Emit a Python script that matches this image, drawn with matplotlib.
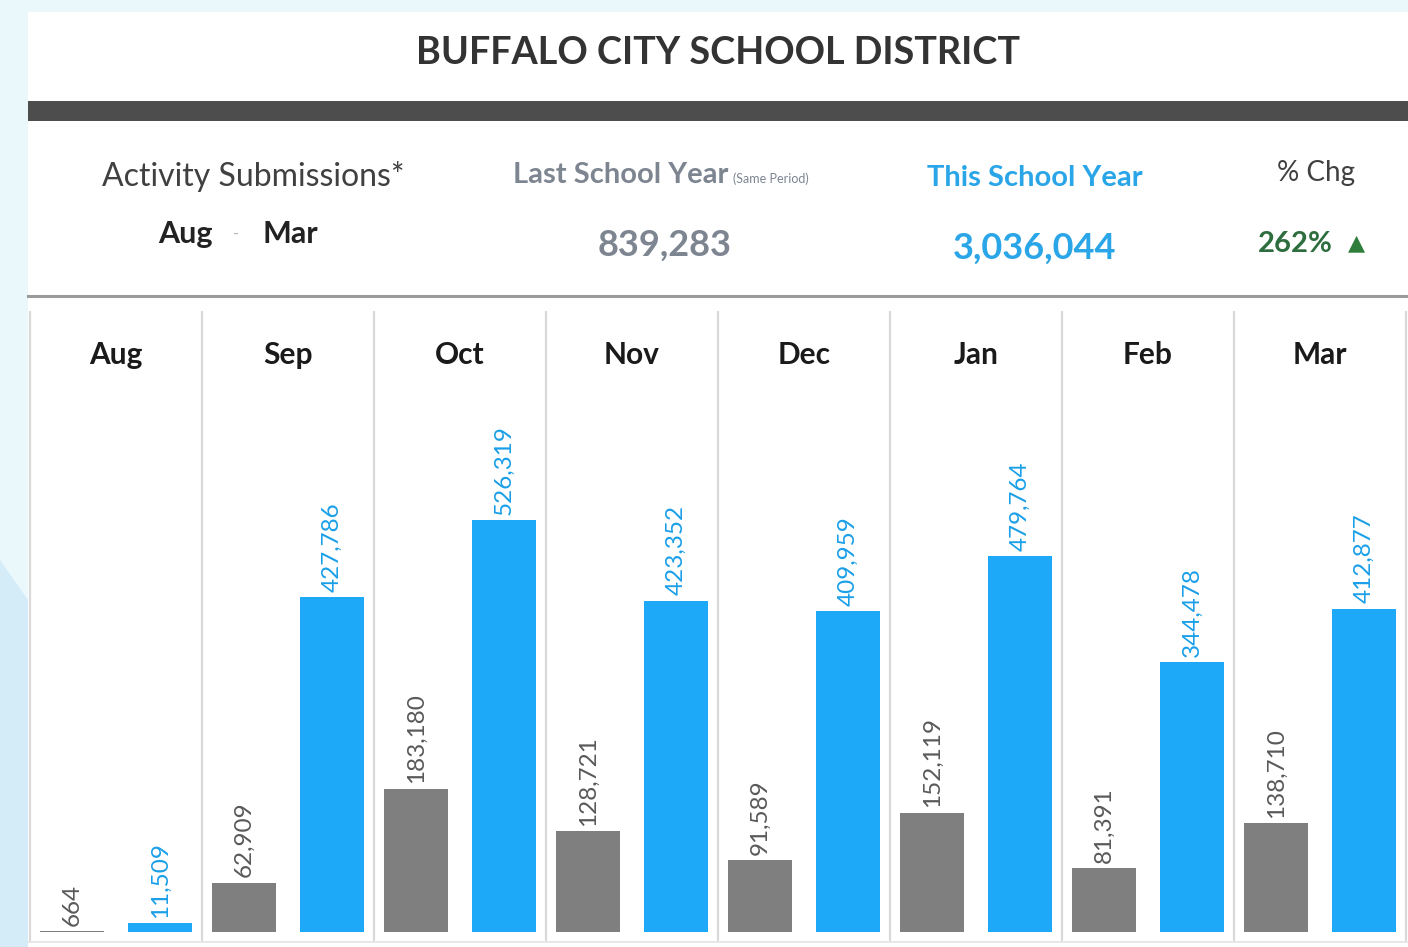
import matplotlib
matplotlib.use('Agg')
import matplotlib.pyplot as plt
from matplotlib.patches import Rectangle, Polygon

plt.rcParams['font.family'] = ['Lato', 'DejaVu Sans']

# данные
months = ['Aug', 'Sep', 'Oct', 'Nov', 'Dec', 'Jan', 'Feb', 'Mar']
last_year = [664, 62909, 183180, 128721, 91589, 152119, 81391, 138710]
this_year = [11509, 427786, 526319, 423352, 409959, 479764, 344478, 412877]
last_total = '839,283'
this_total = '3,036,044'
pct_chg = '262%'

W, H = 1408, 947
GRAY = '#7f7f7f'
BLUE = '#1ea8f8'


def fx(px):
    return px / W


def fy(py):
    return 1 - py / H


fig = plt.figure(figsize=(W / 100, H / 100), dpi=100, facecolor='#eaf8fc')

# фон слева (светло-голубая полоса)
fig.patches.append(Polygon([(0, fy(560)), (fx(28), fy(600)), (fx(28), 0), (0, 0)],
                           closed=True, transform=fig.transFigure,
                           facecolor='#d3ecf7', edgecolor='none', zorder=-6))
# белая панель (под осями)
fig.patches.append(Rectangle((fx(28), 0), 1 - fx(28), fy(12), transform=fig.transFigure,
                             facecolor='white', edgecolor='none', zorder=-5))

# шапка
fig.text(fx(718), fy(53), 'BUFFALO CITY SCHOOL DISTRICT', ha='center', va='center',
         fontsize=27.2, fontweight='bold', color='#333333')
fig.patches.append(Rectangle((fx(28), fy(121)), 1 - fx(28), (121 - 101) / H,
                             transform=fig.transFigure, facecolor='#4d4d4d', edgecolor='none'))

fig.text(fx(253), fy(177), 'Activity Submissions*', ha='center', va='center',
         fontsize=23, color='#404040')
fig.text(fx(185), fy(234), 'Aug', ha='center', va='center', fontsize=22,
         fontweight='bold', color='#222222')
fig.text(fx(236), fy(234), '-', ha='center', va='center', fontsize=12, color='#bbbbbb')
fig.text(fx(290), fy(234), 'Mar', ha='center', va='center', fontsize=22,
         fontweight='bold', color='#222222')

fig.text(fx(728), fy(175), 'Last School Year', ha='right', va='center', fontsize=21,
         fontweight='bold', color='#7d8591')
fig.text(fx(733), fy(179), '(Same Period)', ha='left', va='center', fontsize=9,
         color='#7d8591')
fig.text(fx(665), fy(245), last_total, ha='center', va='center', fontsize=26,
         fontweight='bold', color='#7d8591')

fig.text(fx(1035), fy(178), 'This School Year', ha='center', va='center', fontsize=21,
         fontweight='bold', color='#2aa6e8')
fig.text(fx(1035), fy(248), this_total, ha='center', va='center', fontsize=26,
         fontweight='bold', color='#2aa6e8')

fig.text(fx(1316), fy(173), '% Chg', ha='center', va='center', fontsize=20, color='#404040')
fig.text(fx(1295), fy(244), pct_chg, ha='center', va='center', fontsize=21,
         fontweight='bold', color='#2e6e3e')
fig.text(fx(1357), fy(243), '▲', ha='center', va='center', fontsize=16,
         color='#2e7d3a', family='DejaVu Sans')

fig.add_artist(plt.Line2D([fx(28), 1], [fy(296), fy(296)], color='#9a9a9a', lw=2.2,
                          transform=fig.transFigure))

# график
ax = fig.add_axes([fx(30), fy(932), fx(1406) - fx(30), (932 - 312) / H])
ax.set_xlim(0, len(months))
ax.set_ylim(0, 792000)
ax.axis('off')

bw = 64 / 172
for i, m in enumerate(months):
    xg = i + 42 / 172
    xb = i + 130 / 172
    ax.bar(xg, last_year[i], width=bw, color=GRAY)
    ax.bar(xb, this_year[i], width=bw, color=BLUE)
    ax.text(xg, last_year[i] + 7000, f'{last_year[i]:,}', rotation=90, ha='center',
            va='bottom', fontsize=17.5, color='#595959')
    ax.text(xb, this_year[i] + 7000, f'{this_year[i]:,}', rotation=90, ha='center',
            va='bottom', fontsize=17.5, color='#1a9fe8')
    ax.text(i + 0.5, 1.0 - 43 / 620, m, transform=ax.get_xaxis_transform(), ha='center',
            va='center', fontsize=21.5, fontweight='bold', color='#1a1a1a')

for i in range(len(months) + 1):
    ax.axvline(i, ymin=-0.013, ymax=1.0, color='#d9d9d9', lw=1.6, clip_on=False)

fig.add_artist(plt.Line2D([fx(28), 1], [fy(942), fy(942)], color='#e3e3e3', lw=1.2,
                          transform=fig.transFigure))

fig.savefig('out.png', dpi=100, facecolor=fig.get_facecolor())
